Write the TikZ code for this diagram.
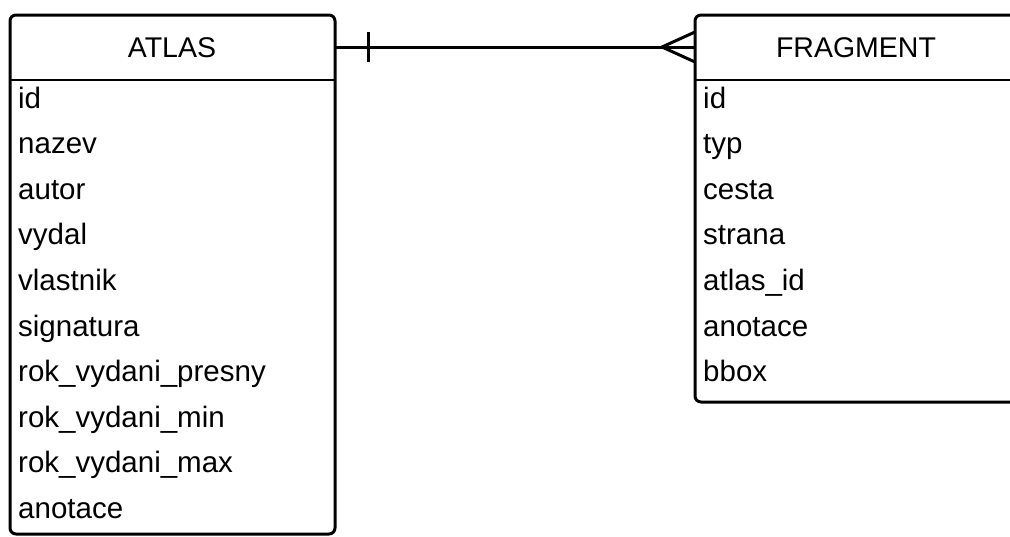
\documentclass[tikz,border=0pt]{standalone}
\usepackage{fontspec}
\setmainfont{Liberation Sans}
\begin{document}
\begin{tikzpicture}[x=1pt,y=-1pt,
  tbl/.style={draw=black,line width=3pt,rounded corners=6pt},
  sep/.style={draw=black,line width=2pt},
  hdr/.style={font=\fontsize{28.5}{32}\selectfont,anchor=base,inner sep=0pt},
  fld/.style={font=\fontsize{29.5}{33}\selectfont,anchor=base west,inner sep=0pt},
  rel/.style={draw=black,line width=3pt}]
\useasboundingbox (0,0) rectangle (1010,536);
\clip (0,0) rectangle (1010,536);
% ATLAS table
\draw[tbl] (10,15) rectangle (335,534);
\draw[sep] (10,80) -- (335,80);
\node[hdr] (atlas) at (172,57) {ATLAS};
\foreach \t [count=\i from 0] in {id,nazev,autor,vydal,vlastnik,signatura,rok\_vydani\_presny,rok\_vydani\_min,rok\_vydani\_max,anotace}
  \node[fld] (a\i) at (18,{108+45.6*\i}) {\t};
% FRAGMENT table
\draw[tbl] (695,15) rectangle (1018,402);
\draw[sep] (695,80) -- (1018,80);
\node[hdr] (frag) at (856,57) {FRAGMENT};
\foreach \t [count=\i from 0] in {id,typ,cesta,strana,atlas\_id,anotace,bbox}
  \node[fld] (f\i) at (703,{108+45.6*\i}) {\t};
% relationship
\coordinate (ra) at (335,47);
\coordinate (rf) at (695,47);
\coordinate (apex) at (662,47);
\draw[rel] (ra) -- (rf);
\draw[rel] (368,32) -- (368,62);
\draw[rel] (695,32) -- (apex) -- (695,62);
\end{tikzpicture}
\end{document}
